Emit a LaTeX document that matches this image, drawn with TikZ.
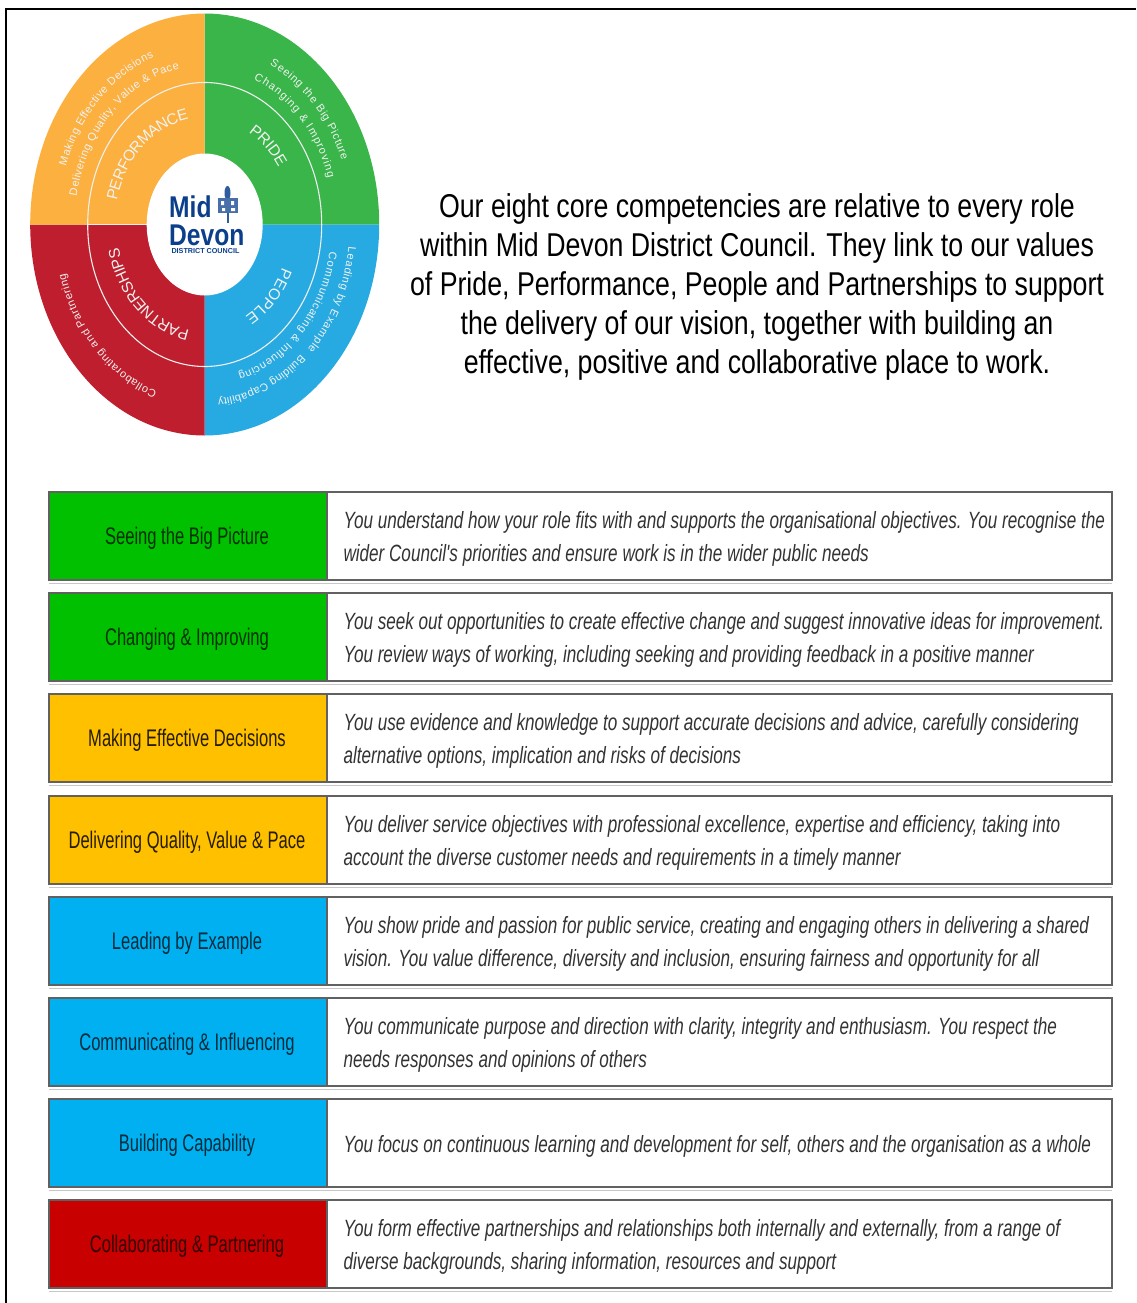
\documentclass[tikz,border=0pt]{standalone}
\usepackage{fontspec}
\setmainfont[FakeStretch=0.81]{Liberation Sans}
\newfontfamily\labelfont[FakeStretch=0.69]{Liberation Sans}
\newfontfamily\descfont[FakeStretch=0.728]{Liberation Sans}
\newfontfamily\logofont[FakeStretch=0.82]{Liberation Sans}
\newfontfamily\logosmall{Liberation Sans}
\newfontfamily\wheelfont{Liberation Sans}
\usetikzlibrary{calc}
\definecolor{wOrange}{HTML}{FBB040}
\definecolor{wGreen}{HTML}{39B54A}
\definecolor{wBlue}{HTML}{27AAE1}
\definecolor{wRed}{HTML}{BE1E2D}
\definecolor{tGreen}{HTML}{00C000}
\definecolor{tAmber}{HTML}{FFC000}
\definecolor{tBlue}{HTML}{00B0F0}
\definecolor{tRed}{HTML}{C80000}
\definecolor{logoBlue}{HTML}{0B3F8C}
\definecolor{bodyText}{HTML}{333333}
\tikzset{
  x=1pt,y=-1pt,
  rowbox/.style={draw=black!62,line width=1.8pt,inner sep=0pt,outer sep=0pt},
  labelbox/.style={rowbox,minimum width=278pt,minimum height=88pt,anchor=north west,align=center,text depth=0pt},
  descbox/.style={rowbox,minimum width=785pt,minimum height=88pt,anchor=north west,fill=white},
  labeltext/.style={anchor=center,font=\labelfont\fontsize{24}{26}\selectfont},
  desctext/.style={anchor=west,align=left,text=bodyText,font=\descfont\fontsize{23.5}{33}\selectfont\itshape},
  intro/.style={align=center,font=\fontsize{33}{39}\selectfont},
  wheelletter/.style={inner sep=0pt,outer sep=0pt,anchor=base,text=white!90!gray},
  logotext/.style={text=logoBlue,inner sep=0pt,font=\logofont\fontsize{30}{30}\selectfont\bfseries},
  rowshadow/.style={draw=black!22,line width=1.5pt},
}
\newcommand{\wbig}{\wheelfont\fontsize{15.5}{19}\selectfont}
\newcommand{\wsmall}{\wheelfont\fontsize{11}{12}\selectfont}
\newcount\wcount
\newdimen\wWd
\newdimen\wLd
\newdimen\wfb
\newcommand{\wspeed}[3]{\pgfmathsetmacro\wsp{100*sqrt((#1/100*sin(#3))^2+(#2/100*cos(#3))^2)}}
\newcommand{\wmeasure}[2]{%
  \setbox0\hbox{\pgfinterruptpicture#1#2\endpgfinterruptpicture}\global\wLd=\wd0\relax
  \ifdim\wLd<0.1pt\relax\global\wLd=\wfb\relax\fi
}
\makeatletter
% font, text (spaces as ~), rx, ry, start angle, end angle
\newcommand{\arctext}[6]{%
  \wspeed{#3}{#4}{#5}\let\wsa\wsp
  \pgfmathsetmacro\wmid{((#5)+(#6))/2}%
  \wspeed{#3}{#4}{\wmid}\let\wsb\wsp
  \wspeed{#3}{#4}{#6}\let\wsc\wsp
  \pgfmathsetmacro\wL{((#5)-(#6))*0.0174533*(\wsa+4*\wsb+\wsc)/6}%
  \global\wWd=0pt\relax
  \@tfor\wl:=#2\do{\wmeasure{#1}{\wl}\global\advance\wWd by \wLd\relax}%
  \pgfmathsetmacro\wf{\wL/\wWd}%
  \edef\wt{#5}%
  \@tfor\wl:=#2\do{%
    \wmeasure{#1}{\wl}%
    \pgfmathsetmacro\whw{0.5*\wf*\wLd}%
    \wspeed{#3}{#4}{\wt}%
    \pgfmathsetmacro\wt{\wt-\whw/\wsp*57.29578}%
    \wspeed{#3}{#4}{\wt}%
    \pgfmathsetmacro\wang{atan2(-(#4)*cos(\wt),(#3)*sin(\wt))}%
    \pgfmathsetmacro\wpx{(#3)*cos(\wt)}%
    \pgfmathsetmacro\wpy{-(#4)*sin(\wt)}%
    \global\advance\wcount by 1\relax
    \node[wheelletter,font=#1,rotate=\wang,name=wl\the\wcount] at ($(wc)+(\wpx,\wpy)$) {\wl};%
    \pgfmathsetmacro\wt{\wt-\whw/\wsp*57.29578}%
  }%
}
\makeatother
\newcommand{\tablerow}[6]{% name, top y, colour, text colour, label, desc
  \draw[rowshadow] (49,#2+91.5) -- (1112,#2+91.5);
  \node[descbox] (#1d) at (327,#2) {};
  \node[labelbox,fill=#3] (#1l) at (49,#2) {};
  \node[labeltext,text=#4] (#1n) at ($(#1l.center)+(-1,2.5)$) {#5};
  \node[desctext] (#1t) at ($(#1d.west)+(13,3)$) {#6};
}
\begin{document}
\begin{tikzpicture}
\useasboundingbox (0,0) rectangle (1136,1303);
\fill[white] (0,0) rectangle (1136,1303);
\coordinate (wc) at (204.7,224.5);
% frame
\draw[line width=2.2pt,black] (1136,9) -- (6,9) -- (6,1303);
% wheel
\fill[wGreen] (wc) -- ++(0,-211) arc[x radius=174.5pt,y radius=211pt,start angle=90,end angle=0] -- cycle;
\fill[wBlue] (wc) -- ++(174.5,0) arc[x radius=174.5pt,y radius=211pt,start angle=0,end angle=-90] -- cycle;
\fill[wRed] (wc) -- ++(0,211) arc[x radius=174.5pt,y radius=211pt,start angle=-90,end angle=-180] -- cycle;
\fill[wOrange] (wc) -- ++(-174.5,0) arc[x radius=174.5pt,y radius=211pt,start angle=180,end angle=90] -- cycle;
\draw[white!88!gray,line width=1.1pt] (wc) ellipse[x radius=117pt,y radius=142pt];
\draw[white!88!gray,line width=1.1pt] ($(wc)+(-117,0)$) -- ($(wc)+(-58,0)$);
\fill[white] (wc) ellipse[x radius=58pt,y radius=71pt];
% wheel text
\wfb=10pt
\arctext{\wbig}{PERFORMANCE}{90}{107}{167}{100}
\arctext{\wbig}{PRIDE}{88}{106}{60}{33}
\arctext{\wbig}{PEOPLE}{85}{105}{-24}{-62}
\arctext{\wbig}{PARTNERSHIPS}{88}{107}{-100}{-167}
\wfb=5.5pt
\arctext{\wsmall}{Seeing~the~Big~Picture}{147}{178}{64}{21}
\arctext{\wsmall}{Changing~\&~Improving}{129}{157}{68}{17}
\arctext{\wsmall}{Leading~by~Example}{145}{177}{-7}{-45}
\arctext{\wsmall}{Communicating~\&~Influencing}{127}{155}{-10}{-75}
\arctext{\wsmall}{Building~Capability}{144}{175}{-48}{-85}
\arctext{\wsmall}{Collaborating~and~Partnering}{145}{177}{-109}{-164}
\arctext{\wsmall}{Making~Effective~Decisions}{147}{178}{161}{110}
\arctext{\wsmall}{Delivering~Quality,~Value~\&~Pace}{130}{159}{170}{101}
% logo
\node[logotext,anchor=west] (mid) at (169,207) {Mid};
\node[logotext,anchor=west] (devon) at (169,235) {Devon};
\node[text=logoBlue,inner sep=0pt,font=\logosmall\fontsize{7.2}{8}\selectfont\bfseries] (dc) at (205.5,251) {DISTRICT COUNCIL};
\fill[logoBlue!85] (227.5,193) ellipse[x radius=3pt,y radius=7pt];
\fill[logoBlue!85] (226.7,190) rectangle (228.5,223);
\fill[logoBlue!75] (218,198) rectangle (238,213);
\fill[white] (221,201) rectangle (224,205) (231,201) rectangle (234,205) (222,208) rectangle (225,211) (231,208) rectangle (235,211);
% intro
\node[intro] (intro) at (757,287) {Our eight core competencies are relative to every role\\within Mid Devon District Council. They link to our values\\of Pride, Performance, People and Partnerships to support\\the delivery of our vision, together with building an\\effective, positive and collaborative place to work.};
% table
\tablerow{a}{492}{tGreen}{black!75!tGreen}{Seeing the Big Picture}{You understand how your role fits with and supports the organisational objectives. You recognise the\\wider Council's priorities and ensure work is in the wider public needs}
\tablerow{b}{593}{tGreen}{black!75!tGreen}{Changing \& Improving}{You seek out opportunities to create effective change and suggest innovative ideas for improvement.\\You review ways of working, including seeking and providing feedback in a positive manner}
\tablerow{c}{694}{tAmber}{black!85!tAmber}{Making Effective Decisions}{You use evidence and knowledge to support accurate decisions and advice, carefully considering\\alternative options, implication and risks of decisions}
\tablerow{d}{796}{tAmber}{black!85!tAmber}{Delivering Quality, Value \& Pace}{You deliver service objectives with professional excellence, expertise and efficiency, taking into\\account the diverse customer needs and requirements in a timely manner}
\tablerow{e}{897}{tBlue}{black!75!tBlue}{Leading by Example}{You show pride and passion for public service, creating and engaging others in delivering a shared\\vision. You value difference, diversity and inclusion, ensuring fairness and opportunity for all}
\tablerow{f}{998}{tBlue}{black!75!tBlue}{Communicating \& Influencing}{You communicate purpose and direction with clarity, integrity and enthusiasm. You respect the\\needs responses and opinions of others}
\tablerow{g}{1099}{tBlue}{black!75!tBlue}{Building Capability}{You focus on continuous learning and development for self, others and the organisation as a whole}
\tablerow{h}{1200}{tRed}{black!75!tRed}{Collaborating \& Partnering}{You form effective partnerships and relationships both internally and externally, from a range of\\diverse backgrounds, sharing information, resources and support}
\end{tikzpicture}
\end{document}
